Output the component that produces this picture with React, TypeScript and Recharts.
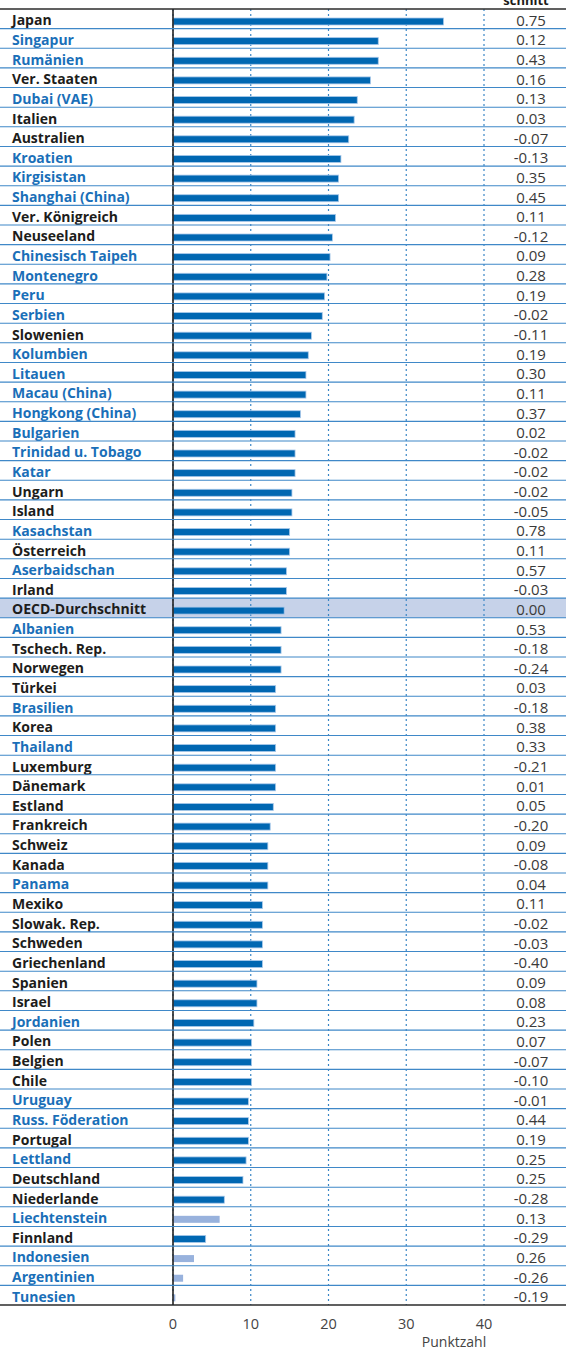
import React from 'react';
import { BarChart, Bar, XAxis, YAxis, CartesianGrid } from 'recharts';

// ---- data ----
const countries = [
  'Japan', 'Singapur', 'Rumänien', 'Ver. Staaten', 'Dubai (VAE)', 'Italien', 'Australien', 'Kroatien',
  'Kirgisistan', 'Shanghai (China)', 'Ver. Königreich', 'Neuseeland', 'Chinesisch Taipeh', 'Montenegro',
  'Peru', 'Serbien', 'Slowenien', 'Kolumbien', 'Litauen', 'Macau (China)', 'Hongkong (China)', 'Bulgarien',
  'Trinidad u. Tobago', 'Katar', 'Ungarn', 'Island', 'Kasachstan', 'Österreich', 'Aserbaidschan', 'Irland',
  'OECD-Durchschnitt', 'Albanien', 'Tschech. Rep.', 'Norwegen', 'Türkei', 'Brasilien', 'Korea', 'Thailand',
  'Luxemburg', 'Dänemark', 'Estland', 'Frankreich', 'Schweiz', 'Kanada', 'Panama', 'Mexiko', 'Slowak. Rep.',
  'Schweden', 'Griechenland', 'Spanien', 'Israel', 'Jordanien', 'Polen', 'Belgien', 'Chile', 'Uruguay',
  'Russ. Föderation', 'Portugal', 'Lettland', 'Deutschland', 'Niederlande', 'Liechtenstein', 'Finnland',
  'Indonesien', 'Argentinien', 'Tunesien',
];

// score difference (Punktzahl)
const scores = [
  34.8, 26.4, 26.4, 25.4, 23.7, 23.3, 22.6, 21.6, 21.3, 21.3, 20.9,
  20.5, 20.2, 19.8, 19.5, 19.2, 17.8, 17.4, 17.1, 17.1, 16.4, 15.7,
  15.7, 15.7, 15.3, 15.3, 15.0, 15.0, 14.6, 14.6, 14.3, 13.9, 13.9,
  13.9, 13.2, 13.2, 13.2, 13.2, 13.2, 13.2, 12.9, 12.5, 12.2, 12.2,
  12.2, 11.5, 11.5, 11.5, 11.5, 10.8, 10.8, 10.4, 10.1, 10.1, 10.1,
  9.7, 9.7, 9.7, 9.4, 9.0, 6.6, 6.0, 4.2, 2.7, 1.3, 0.3,
];

// right column ("Durchschnitt")
const averages = [
  '0.75', '0.12', '0.43', '0.16', '0.13', '0.03', '-0.07', '-0.13', '0.35', '0.45', '0.11',
  '-0.12', '0.09', '0.28', '0.19', '-0.02', '-0.11', '0.19', '0.30', '0.11', '0.37', '0.02',
  '-0.02', '-0.02', '-0.02', '-0.05', '0.78', '0.11', '0.57', '-0.03', '0.00', '0.53', '-0.18',
  '-0.24', '0.03', '-0.18', '0.38', '0.33', '-0.21', '0.01', '0.05', '-0.20', '0.09', '-0.08',
  '0.04', '0.11', '-0.02', '-0.03', '-0.40', '0.09', '0.08', '0.23', '0.07', '-0.07', '-0.10',
  '-0.01', '0.44', '0.19', '0.25', '0.25', '-0.28', '0.13', '-0.29', '0.26', '-0.26', '-0.19',
];

const partners = [
  'Singapur', 'Rumänien', 'Dubai (VAE)', 'Kroatien', 'Kirgisistan', 'Shanghai (China)', 'Chinesisch Taipeh',
  'Montenegro', 'Peru', 'Serbien', 'Kolumbien', 'Litauen', 'Macau (China)', 'Hongkong (China)', 'Bulgarien',
  'Trinidad u. Tobago', 'Katar', 'Kasachstan', 'Aserbaidschan', 'Albanien', 'Brasilien', 'Thailand', 'Panama',
  'Jordanien', 'Uruguay', 'Russ. Föderation', 'Lettland', 'Liechtenstein', 'Indonesien', 'Argentinien', 'Tunesien',
];

const notSignificant = ['Liechtenstein', 'Indonesien', 'Argentinien', 'Tunesien'];

const xTicks = [0, 10, 20, 30, 40];

const rows = countries.map((name, i) => ({ name, score: scores[i], avg: averages[i] }));

// ---- layout ----
const W = 566;
const H = 1348;
const TOP = 9;
const PLOT_H = 1296;
const LEFT_W = 173;
const RIGHT = 82;
const BAND = PLOT_H / rows.length;

const BLUE = '#1a6fb8';
const BLACK = '#1d1d1b';
const BAR_DARK = '#0067b2';
const BAR_LIGHT = '#98b2dd';
const SEP = '#3f88c8';
const GRID = '#3a86c6';
const LABEL_FONT = '"Open Sans", "DejaVu Sans", sans-serif';

const RowTick = (props: any) => {
  const { y, index } = props;
  const row = rows[index];
  if (!row) return null;
  const isPartner = partners.includes(row.name);
  const last = index === rows.length - 1;
  return (
    <g>
      {index === 0 && (
        <>
          <line x1={0} x2={W} y1={y - BAND / 2} y2={y - BAND / 2} stroke="#2b2b2b" strokeWidth={1.5} />
          <text x={526} y={y - BAND / 2 - 4} textAnchor="middle" fontFamily={LABEL_FONT} fontWeight={700} fontSize={13} fill={BLACK}>
            schnitt
          </text>
        </>
      )}
      <text
        x={12}
        y={y + 1}
        dominantBaseline="central"
        textAnchor="start"
        fontFamily={LABEL_FONT}
        fontWeight={700}
        fontSize={14}
        fill={isPartner ? BLUE : BLACK}
      >
        {row.name}
      </text>
      <text
        x={531}
        y={y + 1}
        dominantBaseline="central"
        textAnchor="middle"
        fontFamily={LABEL_FONT}
        fontSize={15}
        fill="#3a3a3a"
      >
        {row.avg}
      </text>
      <line
        x1={0}
        x2={W}
        y1={y + BAND / 2}
        y2={y + BAND / 2}
        stroke={last ? '#2b2b2b' : SEP}
        strokeWidth={last ? 1.5 : 1.1}
      />
    </g>
  );
};

const XTick = (props: any) => {
  const { x, y, payload } = props;
  return (
    <g>
      <text x={x} y={y + 22} textAnchor="middle" fontFamily={LABEL_FONT} fontSize={14.5} fill="#444">
        {payload.value}
      </text>
      {payload.value === 40 && (
        <text x={x - 30} y={y + 40} textAnchor="middle" fontFamily={LABEL_FONT} fontSize={14} fill="#444">
          Punktzahl
        </text>
      )}
    </g>
  );
};

const BarShape = (props: any) => {
  const { x, y, width, height, payload } = props;
  const light = notSignificant.includes(payload.name);
  return (
    <rect
      x={x}
      y={y + 3}
      width={Math.max(width, 0)}
      height={height}
      fill={light ? BAR_LIGHT : BAR_DARK}
      stroke={light ? 'none' : '#a9c9ea'}
      strokeWidth={0.8}
    />
  );
};

export default function App() {
  const oecdIndex = countries.indexOf('OECD-Durchschnitt');
  return (
    <div style={{ position: 'absolute', left: 0, top: 0, width: W, height: H, background: '#fff' }}>
      {/* OECD row highlight, behind the chart */}
      <div
        style={{
          position: 'absolute',
          left: 0,
          top: TOP + oecdIndex * BAND,
          width: W,
          height: BAND,
          background: '#c6d2e9',
        }}
      />
      <div style={{ position: 'absolute', left: 0, top: 0 }}>
        <BarChart
          width={W}
          height={H}
          data={rows}
          layout="vertical"
          margin={{ top: TOP, right: RIGHT, bottom: 0, left: 0 }}
          barCategoryGap={0}
        >
          <CartesianGrid horizontal={false} vertical stroke={GRID} strokeDasharray="2 3" strokeWidth={1.2} />
          <XAxis
            type="number"
            domain={[0, 40]}
            ticks={xTicks}
            axisLine={false}
            tickLine={false}
            tickSize={0}
            height={H - TOP - PLOT_H}
            tick={<XTick />}
          />
          <YAxis
            type="category"
            dataKey="name"
            width={LEFT_W}
            interval={0}
            tickLine={false}
            axisLine={{ stroke: '#222', strokeWidth: 1.6 }}
            tick={<RowTick />}
          />
          <Bar dataKey="score" barSize={7} isAnimationActive={false} shape={<BarShape />} />
        </BarChart>
      </div>
    </div>
  );
}
